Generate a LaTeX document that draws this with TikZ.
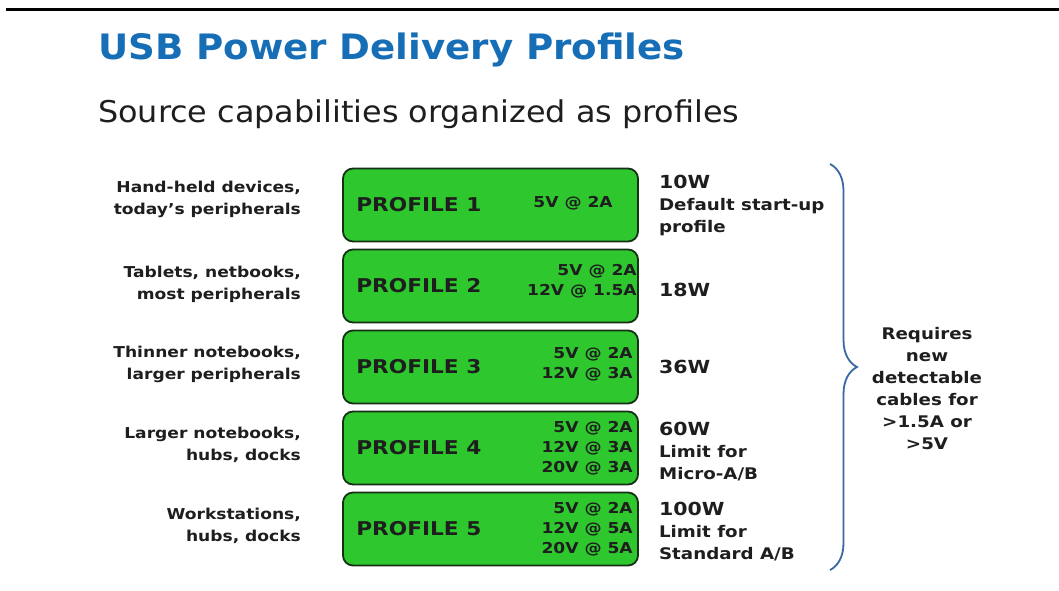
\documentclass[tikz,border=0pt]{standalone}
\usepackage{fontspec}
\setmainfont{DejaVu Sans}
\newfontfamily\ttlfont[FakeStretch=1.18]{DejaVu Sans Condensed}
\newfontfamily\vfont[FakeStretch=1.14]{DejaVu Sans}
\usetikzlibrary{positioning,decorations.pathreplacing}
\definecolor{pgreen}{RGB}{46,200,46}
\definecolor{pedge}{RGB}{22,48,22}
\definecolor{ttlblue}{RGB}{22,110,182}
\definecolor{brblue}{RGB}{58,104,160}
\definecolor{ink}{RGB}{30,30,30}

\begin{document}
\begin{tikzpicture}[x=1pt,y=-1pt,node distance=81pt,on grid,
    prof/.style={draw=pedge,line width=1.8pt,fill=pgreen,rounded corners=10pt,
                 minimum width=295pt,minimum height=73pt},
    pname/.style={anchor=west,inner sep=0pt,font=\fontsize{19}{20}\selectfont\vfont\bfseries,text=ink},
    volt/.style={anchor=east,align=right,inner sep=0pt,font=\fontsize{15}{20}\selectfont\vfont\bfseries,text=ink},
    usage/.style={anchor=east,align=right,inner sep=0pt,font=\fontsize{15}{22}\selectfont\vfont\bfseries,text=ink},
    watts/.style={anchor=west,align=left,inner sep=0pt,font=\fontsize{16}{22}\selectfont\vfont\bfseries,text=ink}]
    \useasboundingbox[fill=white] (0,0) rectangle (1059,590);
    \draw[line width=3.5pt] (6,9.5) -- (1059,9.5);
    \node[anchor=base west,inner sep=0pt,text=ttlblue,font=\fontsize{35}{40}\selectfont\ttlfont\bfseries] (title) at (98,59) {USB Power Delivery Profiles};
    \node[anchor=base west,inner sep=0pt,text=ink,font=\fontsize{30}{34}\selectfont\ttlfont] (sub) at (98,122) {Source capabilities organized as profiles};

    \node[prof] (p1) at (490.5,205) {};
    \node[prof] (p2) [below=of p1] {};
    \node[prof] (p3) [below=of p2] {};
    \node[prof] (p4) [below=of p3] {};
    \node[prof] (p5) [below=of p4] {};

    \node[pname] (n1) at ([xshift=14pt]p1.west) {PROFILE 1};
    \node[pname] (n2) at ([xshift=14pt]p2.west) {PROFILE 2};
    \node[pname] (n3) at ([xshift=14pt]p3.west) {PROFILE 3};
    \node[pname] (n4) at ([xshift=14pt]p4.west) {PROFILE 4};
    \node[pname] (n5) at ([xshift=14pt]p5.west) {PROFILE 5};

    \node[volt] (v1) at ([xshift=-26pt,yshift=2pt]p1.east) {5V @ 2A};
    \node[volt] (v2) at ([xshift=-2pt,yshift=5pt]p2.east) {5V @ 2A\\12V @ 1.5A};
    \node[volt] (v3) at ([xshift=-6pt,yshift=3pt]p3.east) {5V @ 2A\\12V @ 3A};
    \node[volt] (v4) at ([xshift=-6pt]p4.east) {5V @ 2A\\12V @ 3A\\20V @ 3A};
    \node[volt] (v5) at ([xshift=-6pt]p5.east) {5V @ 2A\\12V @ 5A\\20V @ 5A};

    \node[usage] (u1) at ([xshift=-41pt,yshift=6pt]p1.west) {Hand-held devices,\\today’s peripherals};
    \node[usage] (u2) at ([xshift=-41pt,yshift=2pt]p2.west) {Tablets, netbooks,\\most peripherals};
    \node[usage] (u3) at ([xshift=-41pt,yshift=3pt]p3.west) {Thinner notebooks,\\larger peripherals};
    \node[usage] (u4) at ([xshift=-41pt,yshift=3pt]p4.west) {Larger notebooks,\\hubs, docks};
    \node[usage] (u5) at ([xshift=-41pt,yshift=3pt]p5.west) {Workstations,\\hubs, docks};

    \node[watts] (w1) at ([xshift=20pt]p1.east) {{\fontsize{18}{22}\selectfont 10W}\\Default start-up\\profile};
    \node[watts] (w2) at ([xshift=20pt,yshift=-4pt]p2.east) {{\fontsize{18}{22}\selectfont 18W}};
    \node[watts] (w3) at ([xshift=20pt]p3.east) {{\fontsize{18}{22}\selectfont 36W}};
    \node[watts] (w4) at ([xshift=20pt,yshift=-4pt]p4.east) {{\fontsize{18}{22}\selectfont 60W}\\Limit for\\Micro-A/B};
    \node[watts] (w5) at ([xshift=20pt,yshift=-3pt]p5.east) {{\fontsize{18}{22}\selectfont 100W}\\Limit for\\Standard A/B};

    \coordinate (btop) at (830,164);
    \coordinate (bbot) at (830,570);
    \draw[brblue,line width=1.8pt,decorate,decoration={brace,amplitude=27pt,aspect=0.5}] (btop) -- (bbot);
    \node[align=center,inner sep=0pt,text=ink,font=\fontsize{16}{22}\selectfont\vfont\bfseries] (req) at (927,389) {Requires\\new\\detectable\\cables for\\>1.5A or\\>5V};
\end{tikzpicture}
\end{document}
